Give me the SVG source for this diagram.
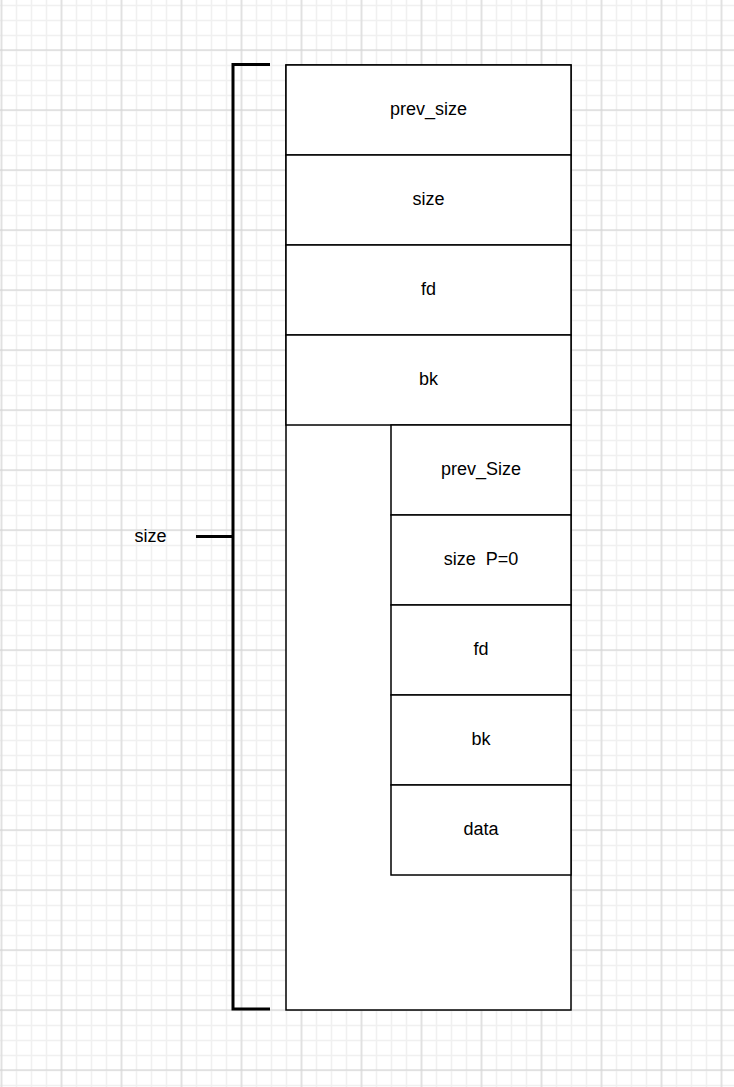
<svg xmlns="http://www.w3.org/2000/svg" width="734" height="1087" viewBox="0 0 734 1087">
  <defs>
    <pattern id="minor" patternUnits="userSpaceOnUse" x="-6" y="-2" width="15" height="15">
      <path d="M7.5 0V15M0 7.5H15" stroke="#f0f0f0" stroke-width="1.5" fill="none"/>
    </pattern>
    <pattern id="major" patternUnits="userSpaceOnUse" x="-28.5" y="20" width="60" height="60">
      <path d="M30 0V60M0 30H60" stroke="#d2d2d2" stroke-width="1" fill="none"/>
    </pattern>
    <style>
      .box { fill: #ffffff; stroke: #000000; stroke-width: 1.5; }
      .lbl { font-family: "Liberation Sans", Arial, sans-serif; font-size: 18px; fill: #000000; text-anchor: middle; }
      .brk { fill: none; stroke: #000000; stroke-width: 3; }
    </style>
  </defs>
  <rect width="734" height="1087" fill="#ffffff"/>
  <rect width="734" height="1087" fill="url(#minor)"/>
  <rect width="734" height="1087" fill="url(#major)"/>

  <g id="chunk">
    <rect class="box" x="286" y="65" width="285" height="945"/>
  </g>
  <g id="prev_size">
    <rect class="box" x="286" y="65" width="285" height="90"/>
    <text class="lbl" x="428.5" y="114.5">prev_size</text>
  </g>
  <g id="size">
    <rect class="box" x="286" y="155" width="285" height="90"/>
    <text class="lbl" x="428.5" y="204.5">size</text>
  </g>
  <g id="fd">
    <rect class="box" x="286" y="245" width="285" height="90"/>
    <text class="lbl" x="428.5" y="294.5">fd</text>
  </g>
  <g id="bk">
    <rect class="box" x="286" y="335" width="285" height="90"/>
    <text class="lbl" x="428.5" y="384.5">bk</text>
  </g>
  <g id="next_prev_size">
    <rect class="box" x="391" y="425" width="180" height="90"/>
    <text class="lbl" x="481" y="474.5">prev_Size</text>
  </g>
  <g id="next_size">
    <rect class="box" x="391" y="515" width="180" height="90"/>
    <text class="lbl" x="481" y="564.5" xml:space="preserve">size  P=0</text>
  </g>
  <g id="next_fd">
    <rect class="box" x="391" y="605" width="180" height="90"/>
    <text class="lbl" x="481" y="654.5">fd</text>
  </g>
  <g id="next_bk">
    <rect class="box" x="391" y="695" width="180" height="90"/>
    <text class="lbl" x="481" y="744.5">bk</text>
  </g>
  <g id="next_data">
    <rect class="box" x="391" y="785" width="180" height="90"/>
    <text class="lbl" x="481" y="834.5">data</text>
  </g>

  <g id="connectors">
    <path class="brk" d="M270 64.5H233V1009H270M196 536.5H233"/>
  </g>
  <g id="size_label">
    <text class="lbl" x="150.5" y="542">size</text>
  </g>
</svg>
